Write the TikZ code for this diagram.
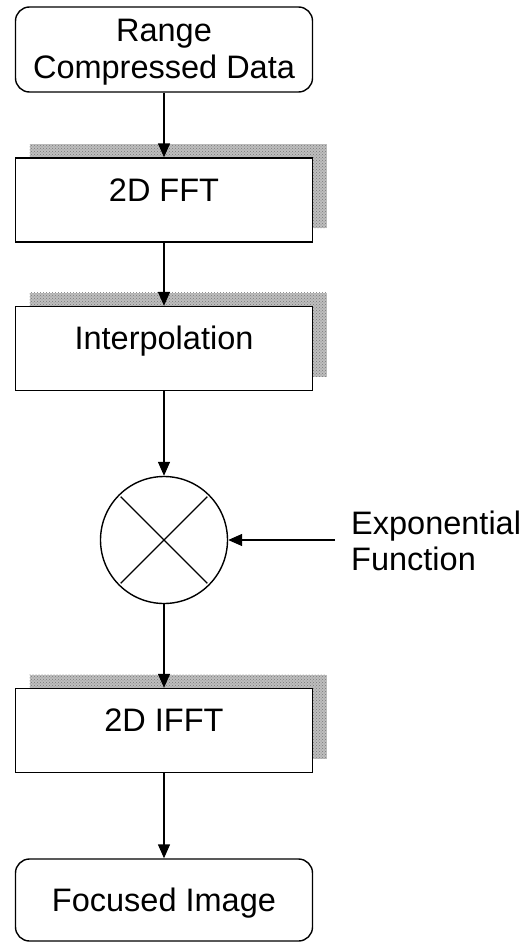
\documentclass[tikz,border=0pt]{standalone}
\usepackage{fontspec}
\setmainfont{Liberation Sans}
\usetikzlibrary{arrows.meta,shadows,patterns}
\definecolor{shadowgray}{RGB}{190,190,190}
\definecolor{shadowdots}{RGB}{120,120,120}
\begin{document}
\begin{tikzpicture}[x=1pt,y=-1pt,
  every node/.style={font=\fontsize{32.5}{36}\selectfont},
  conn/.style={draw=black,line width=1.4pt,-{Triangle[length=14pt,width=12pt]}},
  procbox/.style={draw=black,line width=1.4pt,fill=white,minimum width=297pt,minimum height=84pt,inner sep=0pt,text height=23pt,text depth=21pt,
    general shadow={shadow xshift=14pt,shadow yshift=14pt,fill=shadowgray,postaction={pattern=crosshatch dots,pattern color=shadowdots}}},
  termbox/.style={draw=black,line width=1.4pt,rounded corners=14pt,fill=white,minimum width=297pt,inner sep=0pt,align=center},
  mixer/.style={circle,draw=black,line width=1.4pt,minimum size=127pt,inner sep=0pt},
  crossline/.style={line width=1.4pt,shorten >=3pt,shorten <=3pt}]
\useasboundingbox (0,0) rectangle (525,942);
\node[termbox,minimum height=85pt,text height=59pt,text depth=2pt] (rcd) at (164,49.5) {Range\\Compressed Data};
\node[procbox] (fft) at (164,200) {2D FFT};
\node[procbox] (interp) at (164,348.5) {Interpolation};
\node[mixer] (mix) at (164,540) {};
\draw[crossline] (mix.45) -- (mix.225);
\draw[crossline] (mix.135) -- (mix.315);
\node[procbox] (ifft) at (164,730.5) {2D IFFT};
\node[termbox,minimum height=82pt,text height=23pt,text depth=0pt] (focus) at (164,900) {Focused Image};
\node[anchor=base west,inner sep=0pt,align=left] (expo) at (351,570) {Exponential\\Function};
\coordinate (expin) at (335,540);
\draw[conn] (rcd) -- (fft);
\draw[conn] (fft) -- (interp);
\draw[conn] (interp) -- (mix);
\draw[conn] (mix) -- (ifft);
\draw[conn] (ifft) -- (focus);
\draw[conn] (expin) -- (mix.east);
\end{tikzpicture}
\end{document}
